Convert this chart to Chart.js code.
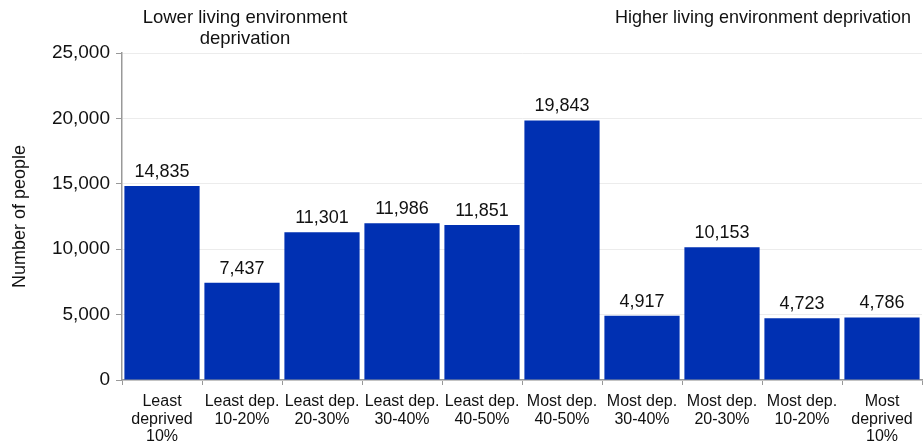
<!DOCTYPE html>
<html>
<head>
<meta charset="utf-8">
<script src="https://cdn.jsdelivr.net/npm/chart.js@4/dist/chart.umd.min.js"></script>
<style>
  html, body { margin: 0; padding: 0; background: #fff; }
  #wrap { width: 924px; height: 444px; position: relative; }
</style>
</head>
<body>
<div id="wrap"><canvas id="chart"></canvas></div>
<script>
const categories = [
    ['Least', 'deprived', '10%'],
    ['Least dep.', '10-20%'],
    ['Least dep.', '20-30%'],
    ['Least dep.', '30-40%'],
    ['Least dep.', '40-50%'],
    ['Most dep.', '40-50%'],
    ['Most dep.', '30-40%'],
    ['Most dep.', '20-30%'],
    ['Most dep.', '10-20%'],
    ['Most', 'deprived', '10%']
];
const people = [14835, 7437, 11301, 11986, 11851, 19843, 4917, 10153, 4723, 4786];
const yTicks = [0, 5000, 10000, 15000, 20000, 25000];

const FONT = "'Liberation Sans', Arial, sans-serif";

// value labels above each bar
const valueLabels = {
    id: 'valueLabels',
    afterDatasetsDraw(chart) {
        const ctx = chart.ctx;
        const meta = chart.getDatasetMeta(0);
        ctx.save();
        ctx.font = '18px ' + FONT;
        ctx.fillStyle = '#111';
        ctx.textAlign = 'center';
        ctx.textBaseline = 'alphabetic';
        meta.data.forEach((bar, i) => {
            ctx.fillText(people[i].toLocaleString('en-GB'), bar.x, bar.y - 9);
        });
        ctx.restore();
    }
};

// side annotations at the top
const sideNotes = {
    id: 'sideNotes',
    afterDraw(chart) {
        const ctx = chart.ctx;
        ctx.save();
        ctx.font = '18.5px ' + FONT;
        ctx.fillStyle = '#111';
        ctx.textBaseline = 'middle';
        ctx.textAlign = 'center';
        ctx.fillText('Lower living environment', 245, 18);
        ctx.fillText('deprivation', 245, 39);
        ctx.textAlign = 'right';
        ctx.fillText('Higher living environment deprivation', 911, 18, 296);
        ctx.restore();
    }
};

new Chart(document.getElementById('chart'), {
    type: 'bar',
    data: {
        labels: categories,
        datasets: [{
            data: people,
            backgroundColor: '#0030b2',
            borderWidth: 0,
            barPercentage: 0.94,
            categoryPercentage: 1
        }]
    },
    options: {
        responsive: true,
        maintainAspectRatio: false,
        animation: false,
        layout: { padding: { top: 53, right: 2, left: 0, bottom: 0 } },
        plugins: {
            legend: { display: false },
            tooltip: { enabled: false }
        },
        scales: {
            x: {
                grid: {
                    offset: true,
                    drawOnChartArea: false,
                    tickLength: 5,
                    tickColor: '#999'
                },
                border: { color: '#999', width: 1.5 },
                ticks: {
                    color: '#111',
                    font: { family: FONT, size: 16, lineHeight: 1.1 },
                    maxRotation: 0,
                    autoSkip: false,
                    padding: 8
                },
                afterFit: s => { s.height = 64; }
            },
            y: {
                min: 0,
                max: 25000,
                afterBuildTicks: s => { s.ticks = yTicks.map(v => ({ value: v })); },
                grid: {
                    color: '#ececec',
                    tickColor: '#999',
                    tickLength: 6
                },
                border: { color: '#999', width: 1.5 },
                ticks: {
                    color: '#111',
                    font: { family: FONT, size: 19 },
                    padding: 6,
                    callback: v => v.toLocaleString('en-GB')
                },
                title: {
                    display: true,
                    text: 'Number of people',
                    color: '#111',
                    font: { family: FONT, size: 18 },
                    padding: { top: 9, bottom: 0 }
                },
                afterFit: s => { s.width = 122; }
            }
        }
    },
    plugins: [valueLabels, sideNotes]
});
</script>
</body>
</html>
